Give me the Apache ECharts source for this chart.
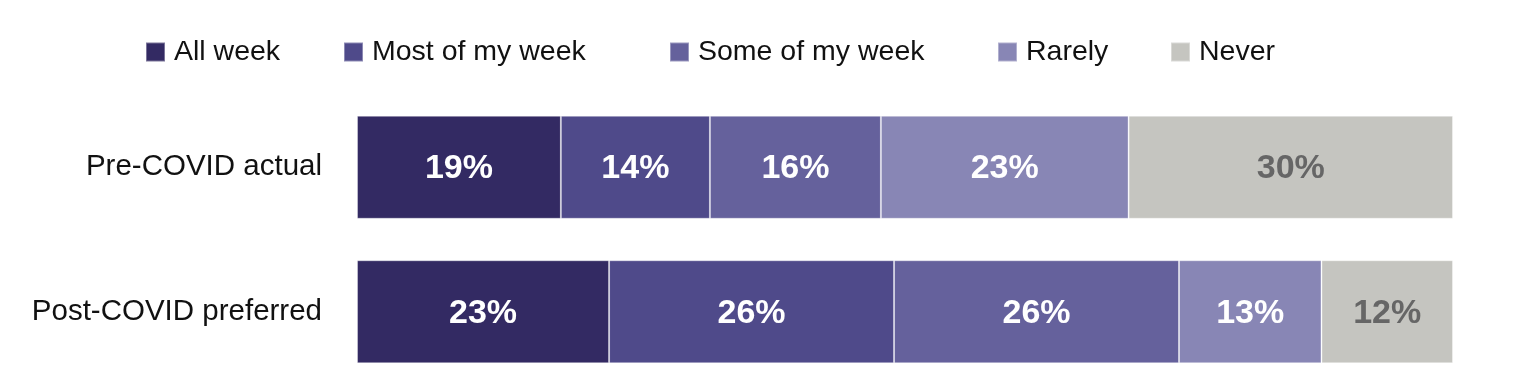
<!DOCTYPE html>
<html>
<head>
<meta charset="utf-8">
<script src="https://cdn.jsdelivr.net/npm/echarts@6/dist/echarts.min.js"></script>
<style>html,body{margin:0;padding:0;background:#fff;}#c{width:1534px;height:384px;}</style>
</head>
<body>
<div id="c"></div>
<script>
const categories = ['Pre-COVID actual', 'Post-COVID preferred'];
const seriesNames = ['All week', 'Most of my week', 'Some of my week', 'Rarely', 'Never'];
const allWeek = [18.6, 23];
const mostOfWeek = [13.6, 26];
const someOfWeek = [15.6, 26];
const rarely = [22.6, 13];
const never = [29.6, 12];
const seriesData = [allWeek, mostOfWeek, someOfWeek, rarely, never];
const colors = ['#332a63', '#4f4a8a', '#65619c', '#8886b5', '#c5c5c0'];
const labelColors = ['#ffffff', '#ffffff', '#ffffff', '#ffffff', '#666666'];
const legendLeft = [145, 343, 669, 997, 1170];

const FONT = '"Liberation Sans", Arial, sans-serif';
const chart = echarts.init(document.getElementById('c'));
chart.setOption({
  animation: false,
  color: colors,
  legend: seriesNames.map((n, i) => ({
    data: [n], left: legendLeft[i], top: 37.5, padding: 0, itemWidth: 19, itemHeight: 19,
    icon: 'rect',
    textStyle: { fontSize: 28.5, color: '#111', fontFamily: FONT, padding: [0, 0, 0, 4] }
  })),
  grid: { left: 357, right: 81, top: 95, bottom: 0 },
  xAxis: { type: 'value', min: 0, max: 100, show: false },
  yAxis: {
    type: 'category', data: categories, inverse: true,
    axisLine: { show: false }, axisTick: { show: false }, splitLine: { show: false },
    axisLabel: { fontSize: 29.5, color: '#111', fontFamily: FONT, margin: 35 }
  },
  series: seriesNames.map((n, i) => ({
    name: n, type: 'bar', stack: 'total', barWidth: 103,
    data: seriesData[i],
    itemStyle: { color: colors[i], borderColor: 'rgba(255,255,255,0.35)', borderWidth: 1 },
    label: {
      show: true, position: 'inside', fontSize: 34, fontWeight: 'bold',
      color: labelColors[i], fontFamily: FONT, offset: [0, 1.5],
      formatter: p => Math.round(p.value) + '%'
    }
  }))
});
</script>
</body>
</html>
